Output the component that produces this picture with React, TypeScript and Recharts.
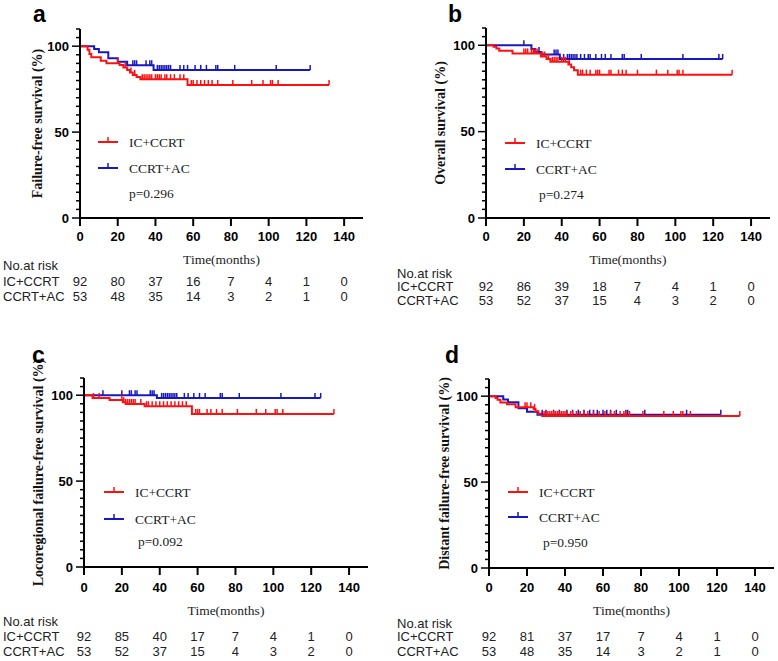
import { LineChart, Line, XAxis, YAxis, Legend } from "recharts";

const SANS = "'Liberation Sans', Arial, sans-serif";
const SERIF = "'Liberation Serif', 'Times New Roman', serif";
const RED = "#ff1010";
const BLUE = "#1818c0";

const TIME_TICKS = [0, 20, 40, 60, 80, 100, 120, 140];
const SURV_TICKS = [0, 5, 10, 15, 20, 25, 30, 35, 40, 45, 50, 55, 60, 65, 70, 75, 80, 85, 90, 95, 100, 105, 110];
const GROUPS = ["IC+CCRT", "CCRT+AC"];

type Step = [number, number];

// a: failure-free survival
const ffsIcSteps: Step[] = [[0, 100], [4, 97.9], [5, 95.5], [6, 93.6], [11, 91.5], [14, 90.1], [21, 89.1], [23, 87.6], [25, 86.2], [26.5, 84.7], [28, 83.3], [30, 82], [32, 80.8], [57, 77.4]];
const ffsIcCens = [20, 24, 27, 29, 33, 34, 35, 36, 37, 38, 40, 41, 42, 43, 45, 46, 48, 50, 53, 55, 59, 60, 62, 64, 66, 68, 70, 73, 81, 91, 97, 101, 102, 105, 132];
const ffsAcSteps: Step[] = [[0, 100], [7.5, 98.3], [10, 96.5], [15, 93], [20, 90.9], [25, 88.9], [39, 86.2]];
const ffsAcCens = [28, 29, 30, 35, 37, 38, 41, 42, 43, 44, 45, 46, 47, 48, 53, 55, 57, 61, 64, 67, 72, 73, 82, 104, 122];
const ffsRiskIc = [92, 80, 37, 16, 7, 4, 1, 0];
const ffsRiskAc = [53, 48, 35, 14, 3, 2, 1, 0];

// b: overall survival
const osIcSteps: Step[] = [[0, 100], [4, 99.1], [5.5, 98.1], [7, 96.8], [14, 95.3], [29, 93.5], [32, 92], [34, 90.4], [43.5, 88.8], [45, 87.3], [46.5, 85.6], [48.5, 83]];
const osIcCens = [20, 21, 22, 24, 25, 26, 27, 30, 31, 33, 35, 36, 37, 38, 40, 41, 42, 44, 50, 51, 53, 55, 58, 59, 60, 65, 66, 70, 72, 74, 80, 90, 96, 101, 102, 104, 130];
const osAcSteps: Step[] = [[0, 100], [24, 97.9], [26, 96.1], [29, 94.6], [39, 92.1]];
const osAcCens = [20, 28, 36, 37, 38, 41, 43, 44, 45, 46, 47, 48, 50, 52, 54, 55, 58, 61, 63, 66, 72, 73, 82, 104, 123, 125];
const osRiskIc = [92, 86, 39, 18, 7, 4, 1, 0];
const osRiskAc = [53, 52, 37, 15, 4, 3, 2, 0];

// c: locoregional failure-free survival
const lrIcSteps: Step[] = [[0, 100], [4.5, 98.4], [13.5, 97.2], [20.5, 95.9], [22, 94.9], [32, 93.6], [57, 89.1]];
const lrIcCens = [5, 8, 20, 21, 22, 23, 24, 25, 26, 27, 30, 33, 34, 36, 38, 40, 42, 44, 46, 48, 50, 52, 54, 59, 60, 61, 65, 67, 70, 73, 81, 91, 96, 101, 102, 105, 132];
const lrAcSteps: Step[] = [[0, 100], [38.5, 98.4]];
const lrAcCens = [10, 20, 24, 25, 27, 28, 35, 36, 37, 41, 42, 43, 44, 45, 46, 47, 48, 49, 53, 55, 58, 61, 64, 72, 73, 82, 104, 122, 125];
const lrRiskIc = [92, 85, 40, 17, 7, 4, 1, 0];
const lrRiskAc = [53, 52, 37, 15, 4, 3, 2, 0];

// d: distant failure-free survival
const dmIcSteps: Step[] = [[0, 100], [3.5, 99], [4.5, 97.9], [6, 96.3], [9.5, 95.3], [14, 93.6], [23.5, 92.6], [24.5, 91.3], [26, 89.8], [28, 88.5]];
const dmIcCens = [19, 20, 22, 24, 29, 30, 31, 32, 33, 34, 35, 36, 37, 38, 39, 40, 41, 43, 44, 46, 48, 50, 52, 55, 58, 61, 64, 66, 69, 71, 72, 74, 81, 92, 97, 101, 102, 106, 132];
const dmAcSteps: Step[] = [[0, 100], [7.5, 98.1], [10, 96.5], [15.5, 93], [20, 91], [25.5, 89.2]];
const dmAcCens = [28, 30, 34, 37, 41, 44, 47, 50, 53, 55, 57, 60, 62, 64, 67, 72, 73, 82, 104, 122];
const dmRiskIc = [92, 81, 37, 17, 7, 4, 1, 0];
const dmRiskAc = [53, 48, 35, 14, 3, 2, 1, 0];

// merge KM steps with censoring times (level read from the step function)
function kmSeries(steps: Step[], cens: number[]) {
  const level = (t: number) => {
    let s = steps[0][1];
    for (const [st, sv] of steps) if (st <= t) s = sv;
    return s;
  };
  const pts = [
    ...steps.map(([t, s]) => ({ t, s, c: 0 })),
    ...cens.map((t) => ({ t, s: level(t), c: 1 })),
  ];
  return pts.sort((a, b) => a.t - b.t || a.c - b.c);
}

const censorDot = (color: string) => (props: any) => {
  const { cx, cy, payload, index } = props;
  if (!payload?.c || cx == null) return <g key={`n${index}`} />;
  return <line key={`c${index}`} x1={cx} x2={cx} y1={cy} y2={cy - 5} stroke={color} strokeWidth={1.5} />;
};

const SurvTick = (props: any) => {
  const { x, y, payload } = props;
  const v = payload.value;
  const major = v % 50 === 0;
  return (
    <g>
      <line x1={x - (major ? 8 : 4)} x2={x} y1={y} y2={y} stroke="#000" strokeWidth={1.5} />
      {major && (
        <text x={x - 11} y={y} textAnchor="end" dominantBaseline="central" fontFamily={SANS} fontWeight="bold" fontSize={13} fill="#000">
          {v}
        </text>
      )}
    </g>
  );
};

const TimeTick = (props: any) => {
  const { x, y, payload, riskIc, riskAc, rows, labelX } = props;
  const i = TIME_TICKS.indexOf(payload.value);
  const riskText = { fontFamily: SANS, fontSize: 13, fill: "#222" };
  return (
    <g>
      <line x1={x} x2={x} y1={y} y2={y + 8} stroke="#000" strokeWidth={2} />
      <text x={x} y={y + rows.tick} textAnchor="middle" dominantBaseline="central" fontFamily={SANS} fontWeight="bold" fontSize={13} fill="#000">
        {payload.value}
      </text>
      <text x={x} y={y + rows.ic} textAnchor="middle" dominantBaseline="central" {...riskText}>{riskIc[i]}</text>
      <text x={x} y={y + rows.ac} textAnchor="middle" dominantBaseline="central" {...riskText}>{riskAc[i]}</text>
      {i === 0 && (
        <>
          <text x={labelX} y={y + rows.noat} dominantBaseline="central" {...riskText}>No.at risk</text>
          <text x={labelX} y={y + rows.ic} dominantBaseline="central" {...riskText}>{GROUPS[0]}</text>
          <text x={labelX} y={y + rows.ac} dominantBaseline="central" {...riskText}>{GROUPS[1]}</text>
        </>
      )}
    </g>
  );
};

const KmLegend = (props: any) => {
  const { payload, p, gap, pGap, pDx } = props;
  const items = [...(payload ?? [])].sort((a: any, b: any) => GROUPS.indexOf(a.value) - GROUPS.indexOf(b.value));
  const txt = { fontFamily: SERIF, fontSize: 13.5, fill: "#222" };
  return (
    <svg width={130} height={70} style={{ display: "block", overflow: "visible" }}>
      {items.map((it: any, i: number) => (
        <g key={it.value} transform={`translate(0, ${7 + i * gap})`}>
          <line x1={0} x2={20} y1={0} y2={0} stroke={it.color} strokeWidth={2} />
          <line x1={10} x2={10} y1={0} y2={-5} stroke={it.color} strokeWidth={1.5} />
          <text x={31} y={0} dominantBaseline="central" {...txt}>{it.value}</text>
        </g>
      ))}
      <text x={31 + pDx} y={7 + pGap} dominantBaseline="central" {...txt}>{p}</text>
    </svg>
  );
};

function KmPanel({ cfg, letter, title, ic, ac, riskIc, riskAc, p }: any) {
  const icData = kmSeries(ic[0], ic[1]);
  const acData = kmSeries(ac[0], ac[1]);
  return (
    <div style={{ position: "absolute", left: cfg.left, top: cfg.top, width: cfg.width, height: cfg.height }}>
      <LineChart width={cfg.width} height={cfg.height} margin={{ top: cfg.mt, right: cfg.mr, bottom: 0, left: 0 }}>
        <XAxis
          dataKey="t"
          type="number"
          domain={[0, 150]}
          allowDataOverflow
          ticks={TIME_TICKS}
          interval={0}
          height={cfg.xh}
          tickLine={false}
          tickSize={0}
          tickMargin={0}
          axisLine={{ stroke: "#000", strokeWidth: 2 }}
          tick={<TimeTick riskIc={riskIc} riskAc={riskAc} rows={cfg.rows} labelX={cfg.labelX} />}
          label={{ value: "Time(months)", position: "insideTop", offset: cfg.rows.time - 5, fontFamily: SERIF, fontSize: 13.5, fill: "#222" }}
        />
        <YAxis
          type="number"
          domain={[0, 110]}
          allowDataOverflow
          ticks={SURV_TICKS}
          interval={0}
          width={cfg.yw}
          tickLine={false}
          tickSize={0}
          tickMargin={0}
          axisLine={{ stroke: "#000", strokeWidth: 2 }}
          tick={<SurvTick />}
          label={{ value: title, angle: -90, position: "center", dx: cfg.titleDx, fontFamily: SERIF, fontWeight: 700, fontSize: 14, fill: "#111" }}
        />
        <Line data={acData} name={GROUPS[1]} dataKey="s" type="stepAfter" stroke={BLUE} strokeWidth={2} dot={censorDot(BLUE)} activeDot={false} isAnimationActive={false} />
        <Line data={icData} name={GROUPS[0]} dataKey="s" type="stepAfter" stroke={RED} strokeWidth={2} dot={censorDot(RED)} activeDot={false} isAnimationActive={false} />
        <Legend
          layout="vertical"
          align="center"
          verticalAlign="middle"
          wrapperStyle={{ left: cfg.lg.x, top: cfg.lg.y - 7, width: 130, height: 70 }}
          content={<KmLegend p={p} gap={cfg.lg.gap} pGap={cfg.lg.pGap} pDx={cfg.lg.pDx} />}
        />
      </LineChart>
      <svg width={cfg.width} height={cfg.height} style={{ position: "absolute", left: 0, top: 0, pointerEvents: "none" }}>
        <text x={cfg.letter.x} y={cfg.letter.y} fontFamily={SANS} fontWeight="bold" fontSize={23} fill="#000">{letter}</text>
      </svg>
    </div>
  );
}

const PANEL_A = { left: 0, top: 0, width: 389, height: 330, mt: 29, mr: 26, yw: 80, xh: 112, titleDx: -3, labelX: 3, rows: { tick: 18.5, time: 41, noat: 47, ic: 63, ac: 78 }, lg: { x: 98, y: 142, gap: 26, pGap: 51, pDx: 0 }, letter: { x: 33, y: 22 } };
const PANEL_B = { left: 390, top: 0, width: 388, height: 330, mt: 28, mr: 8, yw: 96, xh: 112, titleDx: 2, labelX: 7, rows: { tick: 18.5, time: 41, noat: 55, ic: 68.5, ac: 82.5 }, lg: { x: 115, y: 143, gap: 26, pGap: 51, pDx: 3 }, letter: { x: 58, y: 22 } };
const PANEL_C = { left: 0, top: 330, width: 389, height: 331, mt: 48, mr: 21, yw: 84, xh: 94, titleDx: -4, labelX: 3, rows: { tick: 20, time: 43, noat: 54, ic: 69, ac: 84 }, lg: { x: 104, y: 162, gap: 27, pGap: 49, pDx: 3 }, letter: { x: 32, y: 33 } };
const PANEL_D = { left: 390, top: 330, width: 388, height: 331, mt: 49, mr: 4, yw: 99, xh: 93, titleDx: 5, labelX: 7, rows: { tick: 19, time: 42, noat: 55, ic: 68.5, ac: 83 }, lg: { x: 118, y: 162, gap: 25, pGap: 50, pDx: 4 }, letter: { x: 55, y: 33 } };

export default function App() {
  return (
    <div style={{ position: "absolute", left: 0, top: 0, width: 778, height: 661, background: "#fff", overflow: "hidden" }}>
      <KmPanel cfg={PANEL_A} letter="a" title="Failure-free survival (%)" ic={[ffsIcSteps, ffsIcCens]} ac={[ffsAcSteps, ffsAcCens]} riskIc={ffsRiskIc} riskAc={ffsRiskAc} p="p=0.296" />
      <KmPanel cfg={PANEL_B} letter="b" title="Overall survival (%)" ic={[osIcSteps, osIcCens]} ac={[osAcSteps, osAcCens]} riskIc={osRiskIc} riskAc={osRiskAc} p="p=0.274" />
      <KmPanel cfg={PANEL_C} letter="c" title="Locoregional failure-free survival (%)" ic={[lrIcSteps, lrIcCens]} ac={[lrAcSteps, lrAcCens]} riskIc={lrRiskIc} riskAc={lrRiskAc} p="p=0.092" />
      <KmPanel cfg={PANEL_D} letter="d" title="Distant failure-free survival (%)" ic={[dmIcSteps, dmIcCens]} ac={[dmAcSteps, dmAcCens]} riskIc={dmRiskIc} riskAc={dmRiskAc} p="p=0.950" />
    </div>
  );
}
